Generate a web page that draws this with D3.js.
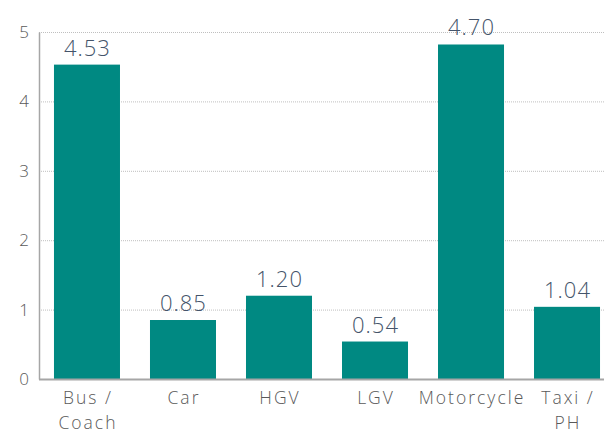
<!DOCTYPE html>
<html>
<head>
<meta charset="utf-8">
<script src="https://cdn.jsdelivr.net/npm/d3@7"></script>
<style>
  html, body { margin: 0; padding: 0; background: #fff; }
  #chart { width: 604px; height: 434px; }
  text { font-family: "Open Sans", Lato, sans-serif; font-weight: 300; }
</style>
</head>
<body>
<div id="chart"></div>
<script>
const categories = ["Bus / Coach", "Car", "HGV", "LGV", "Motorcycle", "Taxi / PH"];
const values = [4.53, 0.85, 1.20, 0.54, 4.82, 1.04];
const valueLabels = ["4.53", "0.85", "1.20", "0.54", "4.70", "1.04"];
const yTicks = [0, 1, 2, 3, 4, 5];
const yTickLabels = ["0", "1", "2", "3", "4", "5"];

document.addEventListener("DOMContentLoaded", function() {
    const width = 604, height = 434;
    const margin = {top: 32, left: 39, bottom: 55};

    const svg = d3.select("#chart").append("svg")
        .attr("width", width)
        .attr("height", height);

    // scales
    const x = d3.scaleBand()
        .domain(categories)
        .range([margin.left, margin.left + 576])
        .paddingInner(0.3125)
        .paddingOuter(0.156);
    const y = d3.scaleLinear().domain([0, 5]).range([height - margin.bottom, margin.top]);

    // dotted gridlines
    svg.append("g")
        .selectAll("line")
        .data(yTicks.filter(d => d > 0))
        .enter().append("line")
        .attr("x1", margin.left)
        .attr("x2", width)
        .attr("y1", d => y(d) + 0.5)
        .attr("y2", d => y(d) + 0.5)
        .attr("stroke", "#bfbfbf")
        .attr("stroke-width", 1)
        .attr("stroke-dasharray", "1,1");

    // y axis
    const yAxis = d3.axisLeft(y)
        .tickValues(yTicks)
        .tickFormat((d, i) => yTickLabels[i])
        .tickSize(0)
        .tickPadding(10);
    const gy = svg.append("g")
        .attr("transform", `translate(${margin.left}, 0)`)
        .call(yAxis);
    gy.select(".domain").attr("stroke", "#a6a6a6").attr("stroke-width", 1.5);
    gy.selectAll("text")
        .attr("fill", "#595959")
        .attr("font-size", "17px")
        .attr("font-family", "'Open Sans', sans-serif")
        .attr("font-weight", 300);

    // bars
    svg.selectAll(".bar")
        .data(values)
        .enter().append("rect")
        .attr("class", "bar")
        .attr("x", (d, i) => x(categories[i]))
        .attr("y", d => y(d))
        .attr("width", x.bandwidth())
        .attr("height", d => y(0) - y(d))
        .attr("fill", "#008982");

    // value labels
    svg.selectAll(".val")
        .data(values)
        .enter().append("text")
        .attr("class", "val")
        .attr("x", (d, i) => x(categories[i]) + x.bandwidth() / 2 + 0.5)
        .attr("y", d => y(d) - 9)
        .attr("text-anchor", "middle")
        .attr("fill", "#44546a")
        .attr("font-size", "22px")
        .attr("letter-spacing", "1px")
        .text((d, i) => valueLabels[i]);

    // x axis baseline
    svg.append("line")
        .attr("x1", margin.left)
        .attr("x2", width)
        .attr("y1", y(0) + 0.5)
        .attr("y2", y(0) + 0.5)
        .attr("stroke", "#a6a6a6")
        .attr("stroke-width", 2);

    // category labels (wrapped after "/")
    const cat = svg.selectAll(".cat")
        .data(categories)
        .enter().append("text")
        .attr("class", "cat")
        .attr("text-anchor", "middle")
        .attr("fill", "#595959")
        .attr("font-size", "17.5px")
        .attr("letter-spacing", "2px");
    cat.each(function(d) {
        const lines = d.split("/ ").map((s, i, a) => i < a.length - 1 ? s + "/" : s);
        const t = d3.select(this);
        lines.forEach((l, i) => {
            t.append("tspan")
                .attr("x", x(d) + x.bandwidth() / 2 + 1)
                .attr("y", y(0) + 25 + i * 25)
                .text(l);
        });
    });
});
</script>
</body>
</html>
